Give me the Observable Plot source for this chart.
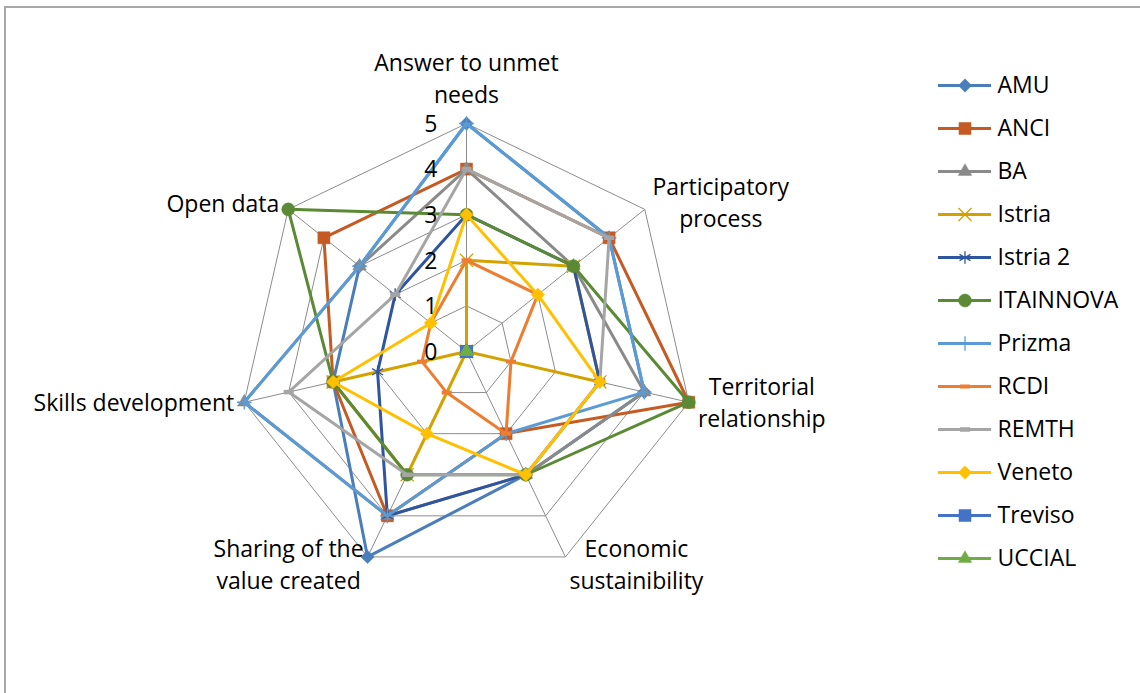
<!DOCTYPE html>
<html><head><meta charset="utf-8">
<script src="https://cdn.jsdelivr.net/npm/d3@7"></script>
<script src="https://cdn.jsdelivr.net/npm/@observablehq/plot@0.6"></script>
<style>
html,body{margin:0;padding:0;background:#fff;}
#wrap{position:relative;width:1140px;height:693px;overflow:hidden;font-family:"Open Sans",sans-serif;}
#frame{position:absolute;left:4px;top:6px;width:1200px;height:800px;border-top:2px solid #a8a8a8;border-left:2px solid #a8a8a8;pointer-events:none;}
#chart{position:absolute;left:0;top:0;}
#legend{position:absolute;left:920px;top:0;}
</style></head><body>
<div id="wrap"><div id="chart"></div><div id="legend"></div><div id="frame"></div></div>
<script>
// ---- data ----
const axisNames = ["Answer to unmet\nneeds", "Participatory\nprocess", "Territorial\nrelationship", "Economic\nsustainibility", "Sharing of the\nvalue created", "Skills development", "Open data"];
const seriesNames = ["AMU", "ANCI", "BA", "Istria", "Istria 2", "ITAINNOVA", "Prizma", "RCDI", "REMTH", "Veneto", "Treviso", "UCCIAL"];
const AMU       = [5, 4, 4, 3, 5, 3, 3];
const ANCI      = [4, 4, 5, 2, 4, 3, 4];
const BA        = [4, 3, 4, 3, 4, 5, 3];
const Istria    = [2, 3, 3, 0, 3, 3, 0];
const Istria2   = [3, 3, 3, 3, 4, 2, 2];
const ITAINNOVA = [3, 3, 5, 3, 3, 3, 5];
const Prizma    = [5, 4, 4, 2, 4, 5, 3];
const RCDI      = [2, 2, 1, 2, 1, 1, 1];
const REMTH     = [4, 4, 3, 3, 3, 4, 2];
const Veneto    = [3, 2, 3, 3, 2, 3, 1];
const Treviso   = [0, 0, 0, 0, 0, 0, 0];
const UCCIAL    = [0, 0, 0, 0, 0, 0, 0];
const seriesValues = [AMU, ANCI, BA, Istria, Istria2, ITAINNOVA, Prizma, RCDI, REMTH, Veneto, Treviso, UCCIAL];
const tickValues = [0, 1, 2, 3, 4, 5];
const maxValue = 5;

// ---- styles ----
const dash = {draw(ctx, size) { const r = Math.sqrt(size / Math.PI); ctx.moveTo(-r, 0); ctx.lineTo(r, 0); }};
const styles = [
  {color: "#4a7ebb", symbol: "diamond2", r: 6, filled: true},
  {color: "#c55a22", symbol: "square", r: 6.8, filled: true},
  {color: "#8a8a8a", symbol: "triangle", r: 5, filled: true},
  {color: "#d4a200", symbol: "times", r: 6, filled: false, sw: 1.3},
  {color: "#2f55a0", symbol: "asterisk", r: 6, filled: false, sw: 1.3},
  {color: "#5a8a34", symbol: "circle", r: 6.5, filled: true},
  {color: "#5b9bd5", symbol: "plus", r: 4.8, filled: false, sw: 1.3},
  {color: "#ed7d31", symbol: dash, r: 5, filled: false, sw: 4},
  {color: "#a5a5a5", symbol: dash, r: 5, filled: false, sw: 4.5},
  {color: "#ffc000", symbol: "diamond2", r: 6, filled: true},
  {color: "#4472c4", symbol: "square", r: 6.8, filled: true},
  {color: "#70ad47", symbol: "triangle", r: 5, filled: true}
];
const font = "'Open Sans', sans-serif";
const fontSize = 23;
const textColor = "#000";

// ---- layout ----
const W = 1140, H = 693, cx = 466, cy = 351, unit = 45.6;
const n = axisNames.length;
const angle = i => (2 * Math.PI * i) / n;
const px = (v, i) => v * Math.sin(angle(i));
const py = (v, i) => v * Math.cos(angle(i));
const labelLayout = [
  {anchor: "middle", dx: 0, dy: -47},
  {anchor: "middle", dx: 76, dy: -9},
  {anchor: "middle", dx: 73, dy: -1},
  {anchor: "middle", dx: 71, dy: 6},
  {anchor: "middle", dx: -79, dy: 6},
  {anchor: "end", dx: -10, dy: -1},
  {anchor: "end", dx: -9, dy: -8}
];

// grid
const gridRows = [];
for (const lv of tickValues.filter(t => t > 0)) {
  for (let i = 0; i <= n; i++) gridRows.push({level: lv, x: px(lv, i % n), y: py(lv, i % n)});
}
const spokes = axisNames.map((a, i) => ({x2: px(maxValue, i), y2: py(maxValue, i)}));

const marks = [
  Plot.line(gridRows, {x: "x", y: "y", z: "level", stroke: "#8c8c8c", strokeWidth: 1}),
  Plot.link(spokes, {x1: 0, y1: 0, x2: "x2", y2: "y2", stroke: "#8c8c8c", strokeWidth: 1})
];

seriesNames.forEach((name, s) => {
  const vals = seriesValues[s];
  const st = styles[s];
  const pts = vals.map((v, i) => ({name, v, i, x: px(v, i), y: py(v, i)}));
  marks.push(Plot.line([...pts, pts[0]], {x: "x", y: "y", stroke: st.color, strokeWidth: 3, strokeLinejoin: "round"}));
  marks.push(Plot.dot(pts, {x: "x", y: "y", symbol: () => st.symbol, r: st.r,
    fill: st.filled ? st.color : "none", stroke: st.color, strokeWidth: st.filled ? 0.5 : st.sw}));
});

marks.push(Plot.text(tickValues, {x: 0, y: d => d, text: d => String(d), textAnchor: "end", dx: -29, dy: 1,
  fontSize, fontFamily: font, fill: textColor}));

axisNames.forEach((label, i) => {
  const L = labelLayout[i];
  marks.push(Plot.text([label], {x: px(maxValue, i), y: py(maxValue, i), text: d => d,
    textAnchor: L.anchor, lineAnchor: "middle", lineHeight: 1.39, dx: L.dx, dy: L.dy,
    fontSize, fontFamily: font, fill: textColor}));
});

const chart = Plot.plot({
  width: W, height: H, margin: 0,
  style: {background: "none", fontFamily: font},
  x: {axis: null, domain: [-cx / unit, (W - cx) / unit]},
  y: {axis: null, domain: [-(H - cy) / unit, cy / unit]},
  symbol: {type: "identity"},
  marks
});
document.getElementById("chart").appendChild(chart);

// legend
const legendMarks = [];
seriesNames.forEach((name, s) => {
  const st = styles[s];
  legendMarks.push(Plot.ruleY([name], {y: d => d, x1: 0, x2: 1, stroke: st.color, strokeWidth: 3}));
  legendMarks.push(Plot.dot([name], {x: 0.5, y: d => d, symbol: () => st.symbol, r: st.r,
    fill: st.filled ? st.color : "none", stroke: st.color, strokeWidth: st.filled ? 0.5 : st.sw}));
});
legendMarks.push(Plot.text(seriesNames, {x: 1, y: d => d, text: d => d, dx: 6, textAnchor: "start",
  fontSize, fontFamily: font, fill: textColor}));
const legend = Plot.plot({
  width: 220, height: H, margin: 0,
  style: {background: "none", fontFamily: font},
  x: {axis: null, domain: [0, 1], range: [18, 71]},
  y: {axis: null, type: "point", domain: seriesNames, range: [83, 560], padding: 0},
  symbol: {type: "identity"},
  marks: legendMarks
});
document.getElementById("legend").appendChild(legend);
</script></body></html>
